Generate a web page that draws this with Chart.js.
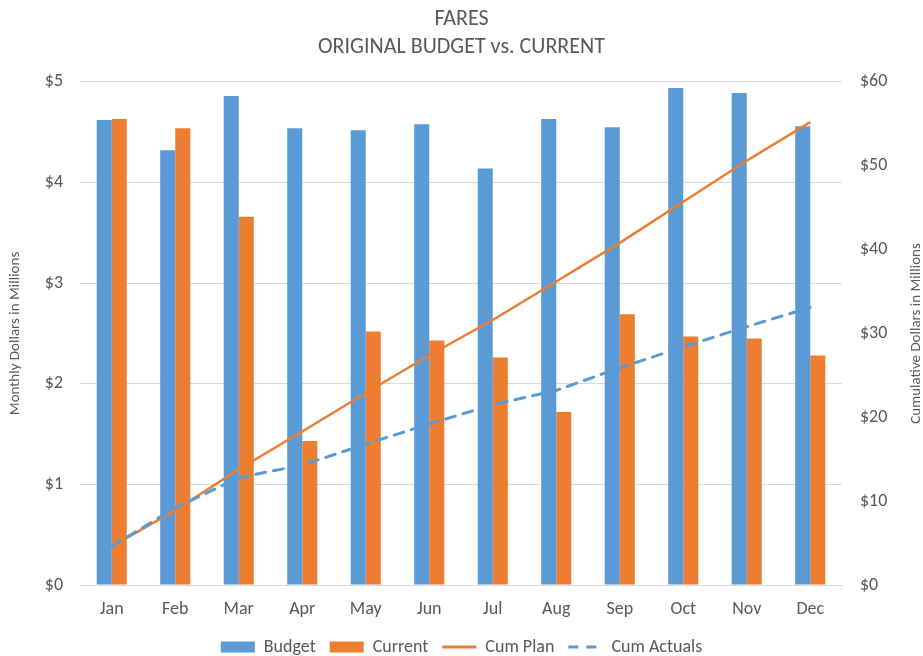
<!DOCTYPE html>
<html>
<head>
<meta charset="utf-8">
<script src="https://cdn.jsdelivr.net/npm/chart.js@4"></script>
<style>
  html, body { margin: 0; padding: 0; background: #fff; }
  #wrap { width: 923px; height: 656px; position: relative; }
</style>
</head>
<body>
<div id="wrap"><canvas id="c" width="923" height="656"></canvas></div>
<script>
const months = ['Jan','Feb','Mar','Apr','May','Jun','Jul','Aug','Sep','Oct','Nov','Dec'];
const budget = [4.62, 4.32, 4.86, 4.54, 4.52, 4.58, 4.14, 4.63, 4.55, 4.94, 4.89, 4.56];
const current = [4.63, 4.54, 3.66, 1.43, 2.52, 2.43, 2.26, 1.72, 2.69, 2.47, 2.45, 2.28];
const cumPlan = [4.6, 8.9, 13.8, 18.3, 22.9, 27.4, 31.6, 36.2, 40.8, 45.7, 50.6, 55.2];
const cumActuals = [4.6, 9.2, 12.8, 14.3, 16.8, 19.2, 21.5, 23.2, 25.9, 28.4, 30.8, 33.1];
const leftTicks = [0, 1, 2, 3, 4, 5];
const rightTicks = [0, 10, 20, 30, 40, 50, 60];

const FONT = 'Carlito, Lato, "Open Sans", sans-serif';
const TXT = '#595959';
const BLUE = '#5B9BD5';
const ORANGE = '#ED7D31';

const rightTitle = {
  id: 'rightTitle',
  afterDraw(chart) {
    const ctx = chart.ctx;
    const area = chart.chartArea;
    ctx.save();
    ctx.translate(916, (area.top + area.bottom) / 2);
    ctx.rotate(-Math.PI / 2);
    ctx.fillStyle = TXT;
    ctx.font = '15px ' + FONT;
    ctx.textAlign = 'center';
    ctx.textBaseline = 'middle';
    ctx.fillText('Cumulative Dollars in Millions', 0, 0);
    ctx.restore();
  }
};

new Chart(document.getElementById('c'), {
  data: {
    labels: months,
    datasets: [
      { type: 'bar', label: 'Budget', data: budget, backgroundColor: BLUE, yAxisID: 'y', order: 2,
        categoryPercentage: 0.474, barPercentage: 1.0 },
      { type: 'bar', label: 'Current', data: current, backgroundColor: ORANGE, yAxisID: 'y', order: 2,
        categoryPercentage: 0.474, barPercentage: 1.0 },
      { type: 'line', label: 'Cum Plan', data: cumPlan, borderColor: ORANGE, borderWidth: 2.5,
        pointRadius: 0, tension: 0, fill: false, yAxisID: 'y1', order: 1 },
      { type: 'line', label: 'Cum Actuals', data: cumActuals, borderColor: BLUE, borderWidth: 3,
        borderDash: [10, 8], borderCapStyle: 'round', pointRadius: 0, tension: 0, fill: false, yAxisID: 'y1', order: 0 }
    ]
  },
  options: {
    responsive: false,
    animation: false,
    events: [],
    layout: { padding: 0 },
    plugins: {
      tooltip: { enabled: false },
      title: {
        display: true,
        text: ['FARES', 'ORIGINAL BUDGET vs. CURRENT'],
        color: TXT,
        font: { family: FONT, size: 22, weight: 'normal', lineHeight: 1.27 },
        padding: { top: 6, bottom: 20 }
      },
      legend: {
        position: 'bottom',
        maxHeight: 32,
        labels: {
          usePointStyle: true,
          pointStyleWidth: 34,
          boxHeight: 11,
          padding: 14,
          color: TXT,
          font: { family: FONT, size: 18 },
          generateLabels(chart) {
            return chart.data.datasets.map((ds, i) => {
              const isLine = ds.type === 'line';
              return {
                text: ds.label,
                fillStyle: isLine ? 'rgba(0,0,0,0)' : ds.backgroundColor,
                strokeStyle: isLine ? ds.borderColor : ds.backgroundColor,
                lineWidth: isLine ? 3 : 0,
                lineDash: isLine ? (ds.borderDash || []) : [],
                lineCap: 'butt',
                pointStyle: isLine ? 'line' : 'rect',
                fontColor: TXT,
                hidden: false,
                datasetIndex: i
              };
            });
          }
        }
      }
    },
    scales: {
      x: {
        offset: true,
        grid: { display: false, drawTicks: false },
        border: { display: true, color: '#D9D9D9' },
        ticks: { color: TXT, font: { family: FONT, size: 18 }, padding: 14, maxRotation: 0 },
        afterFit(s) { s.height = 39; }
      },
      y: {
        position: 'left',
        min: 0, max: 5,
        afterBuildTicks(s) { s.ticks = leftTicks.map(v => ({ value: v })); },
        grid: { color: '#D9D9D9', drawTicks: false, lineWidth: 1 },
        border: { display: false },
        ticks: { color: TXT, font: { family: FONT, size: 18 }, padding: 17, callback: v => '$' + v },
        title: { display: true, text: 'Monthly Dollars in Millions', color: TXT,
                 font: { family: FONT, size: 15 }, padding: { top: 6, bottom: 0 } },
        afterFit(s) { s.width = 80; }
      },
      y1: {
        position: 'right',
        min: 0, max: 60,
        afterBuildTicks(s) { s.ticks = rightTicks.map(v => ({ value: v })); },
        grid: { display: false, drawTicks: false },
        border: { display: false },
        ticks: { color: TXT, font: { family: FONT, size: 18 }, padding: 18, callback: v => '$' + v },
        afterFit(s) { s.width = 81; }
      }
    }
  },
  plugins: [rightTitle]
});
</script>
</body>
</html>
